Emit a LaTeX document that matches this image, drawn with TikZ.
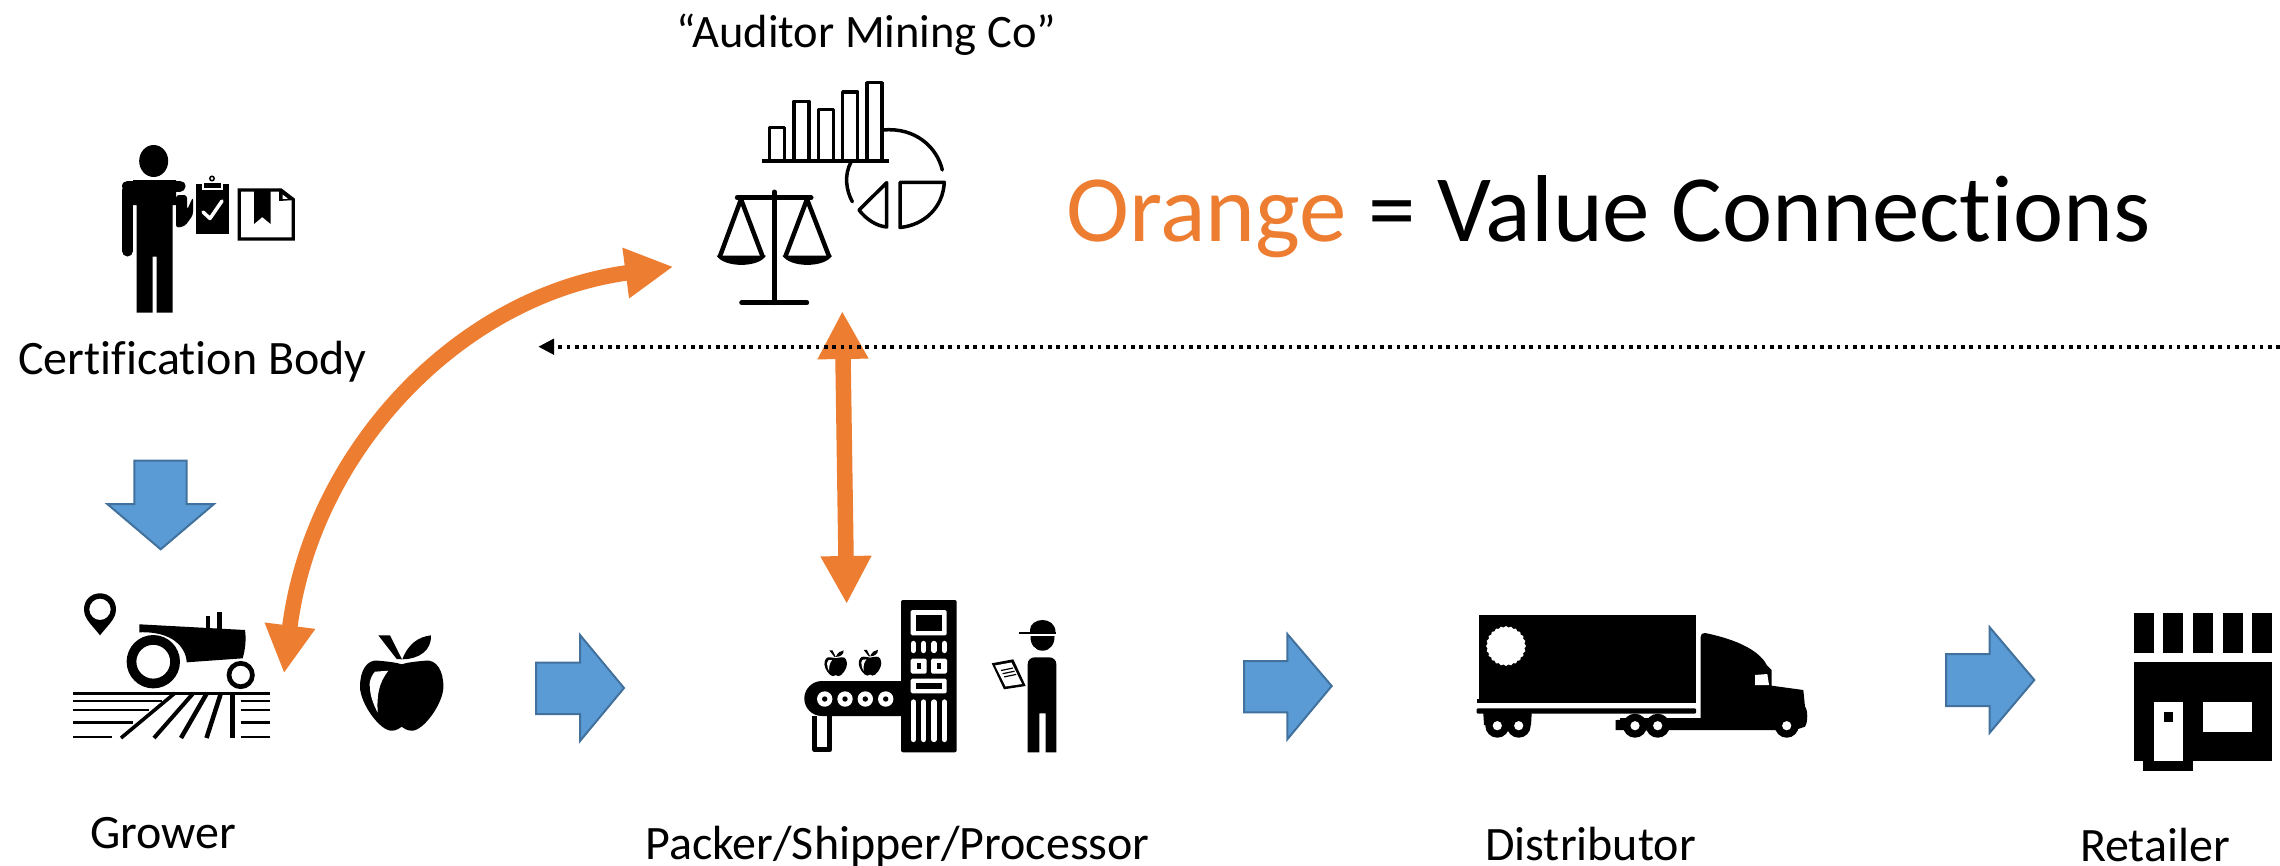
\documentclass[tikz,border=0pt]{standalone}
\usepackage{fontspec}
\setmainfont[Ligatures=NoCommon]{Carlito}
\usetikzlibrary{arrows.meta}
\definecolor{orng}{HTML}{ED7D31}
\definecolor{blfill}{HTML}{5B9BD5}
\definecolor{blline}{HTML}{41719C}
\tikzset{
 lbl/.style={inner sep=0pt,anchor=base,font=\fontsize{48}{56}\selectfont},
 blue arrow/.style={fill=blfill,draw=blline,line width=2pt,line join=miter},
 value link/.style={orng,line width=15.5pt,{Triangle[length=48pt,width=47.5pt]}-{Triangle[length=48pt,width=47.5pt]}},
 thinline/.style={draw=black,line width=3.5pt,line join=round,fill=none},
}
\newcommand{\appleicon}{%
 \fill[black] (-23.4,-22.3) .. controls (-35,-24) and (-41.7,-12) .. (-41.7,3.7)
   .. controls (-41.7,20) and (-22,48) .. (-10,47.7)
   .. controls (-5,47.7) and (-2,45) .. (0,43.7)
   .. controls (2,45) and (5,47.7) .. (10,47.7)
   .. controls (22,48) and (41.7,20) .. (41.7,3.7)
   .. controls (41.7,-12) and (35,-24) .. (23.4,-22.3)
   .. controls (14,-21.5) and (5,-20.5) .. (0,-18.7)
   .. controls (-5,-20.5) and (-14,-21.5) .. (-23.4,-22.3) -- cycle;
 \fill[black] (-23.4,-47.7) -- (-11.7,-47.7) -- (0.3,-23.7) -- (-5,-24) -- cycle;
 \fill[black] (0.6,-23.7) .. controls (7,-40) and (17,-46) .. (29.3,-47.7)
   .. controls (30,-33) and (18,-24) .. (0.6,-23.7) -- cycle;
 \fill[white] (-13.4,-12.3) -- (-26.7,-11.3) .. controls (-32,-6) and (-33,4) .. (-31.7,3.7)
   .. controls (-32,12) and (-28,22) .. (-24,29.7)
   .. controls (-25,12) and (-23,0) .. (-13.4,-12.3) -- cycle;
}
\begin{document}
\begin{tikzpicture}[x=1pt,y=-1pt]
\useasboundingbox (0,0) rectangle (2280,865);
\fill[white] (0,0) rectangle (2280,865);

% ---------- texts
\node[lbl,font=\fontsize{46.5}{54}\selectfont] (auditor) at (866.5,47) {“Auditor Mining Co”};
\node[lbl] (cert) at (192.5,374.5) {Certification Body};
\node[lbl] (grower) at (163.5,848) {Grower};
\node[lbl] (packer) at (897.5,859) {Packer/Shipper/Processor};
\node[lbl] (distrib) at (1590.5,860) {Distributor};
\node[lbl] (retail) at (2155,861) {Retailer};
\node[inner sep=0pt,anchor=base west,font=\fontsize{95}{110}\selectfont] (title) at (1066,241)
  {\textcolor{orng}{Orange} = Value Connections};

% ---------- certifier figure
\fill[black] (153.7,161) ellipse (14.5 and 16);
\fill[black] (133,180) -- (176,180) -- (176,205) -- (172.7,205) -- (172.7,312.7) -- (156.7,312.7) -- (156.7,256.7) -- (152.7,256.7) -- (152.7,312.7) -- (136.7,312.7) -- (136.7,205) -- (133,205) -- cycle;
\draw[black,line width=11pt,line cap=round] (127.5,190) -- (127.5,251);
\draw[black,line width=11pt,line cap=round] (127.5,186) -- (180,186);
\fill[black,rounded corners=3pt] (176,195) -- (187,195) -- (187,210) -- (193,197) -- (193,215) -- (185,226) -- (176,228) -- cycle;
\fill[black] (195.7,183.5) rectangle (229.3,234);
\fill[white] (202,181) rectangle (223,190);
\fill[black] (204,183) rectangle (221,188);
\draw[black,line width=1.5pt] (212,178.5) circle (2.2);
\draw[white,line width=3.5pt,line cap=round,line join=round] (203,212) -- (210,218.5) -- (222,201);
\draw[black,line width=3.2pt] (239.3,190) -- (281,190) -- (293.3,199.5) -- (293.3,239) -- (239.3,239) -- cycle;
\fill[black] (254,190) -- (270.7,190) -- (270.7,224) -- (262.3,217) -- (254,224) -- cycle;
\fill[black] (279,188.5) -- (295,200) -- (279,201) -- cycle;
\fill[white] (282.5,194.5) -- (288,198.7) -- (282.5,199) -- cycle;

% ---------- auditor icon: chart
\foreach \xa/\xb/\yt in {769.3/784.3/127.3,794/809/101.3,818.3/833.3/109.3,842.7/857.7/92,867/882/82.7}
  \draw[thinline] (\xa,160) -- (\xa,\yt) -- (\xb,\yt) -- (\xb,160);
\draw[black,line width=4pt] (761.7,160.7) -- (889,160.7);
% pie
\draw[black,line width=3.5pt,line cap=round] (883,130) .. controls (915,127) and (937,147) .. (942.3,170);
\draw[black,line width=3.5pt,line cap=round] (851,162) .. controls (844,175) and (846,190) .. (852.3,201.7);
\draw[thinline] (886.7,182.7) -- (859,210) .. controls (866,219) and (876,226) .. (886.7,227) -- cycle;
\draw[thinline] (900,182.3) -- (944.3,182.3) .. controls (943,207) and (925,225) .. (900,227.5) -- cycle;
% scales
\draw[black,line width=5pt,line cap=round] (737.3,197.7) -- (811,197.7);
\draw[black,line width=5pt,line cap=round] (774.3,192) -- (774.3,302.7);
\draw[black,line width=5pt,line cap=round] (741.7,302.7) -- (806.7,302.7);
\draw[black,line width=4.5pt,line join=round] (719.5,257.5) -- (741,199.3) -- (763,257.5);
\draw[black,line width=4.5pt,line join=round] (785,257.5) -- (807,199.3) -- (829.5,257.5);
\fill[black] (716.5,255.5) -- (766,255.5) .. controls (759,268) and (724,268) .. (716.5,255.5) -- cycle;
\fill[black] (782.5,255.5) -- (832,255.5) .. controls (825,268) and (790,268) .. (782.5,255.5) -- cycle;

% ---------- tractor
\fill[black,even odd rule] (100,609.3) circle (10.7)
  (84,609.3) .. controls (84,600) and (91,593.3) .. (100,593.3) .. controls (109,593.3) and (116,600) .. (116,609.3)
  .. controls (116,619) and (108,625) .. (100,635.3) .. controls (92,625) and (84,619) .. (84,609.3) -- cycle;
\fill[black] (139.3,624.3) -- (245,630) .. controls (246.5,640) and (245,650) .. (242.7,658.3) -- (186.7,662.3)
  .. controls (186,647) and (172,631) .. (139.3,632.3) -- cycle;
\fill[black] (216.7,611.7) rectangle (221.7,631);
\fill[black] (206,615.5) rectangle (209.5,630);
\draw[black,line width=9.7pt] (153.3,661.7) circle (21.8);
\draw[black,line width=4.7pt] (240.7,675) circle (11.7);
\draw[black,line width=3pt] (73.3,693.3) -- (270,693.3);
\foreach \yy/\xe/\lw in {701/161.7/2.6,710/149/2.6,722.3/132.7/2.6,737/112.3/2.6}
  \draw[black,line width=\lw pt] (73.3,\yy) -- (\xe,\yy) (240.7,\yy) -- (270,\yy);
\foreach \xa/\xb/\lw in {175/121/3.6,193.5/154/4,207/181/4.5,221/206.5/4.5,232.7/232.7/5.5}
  \draw[black,line width=\lw pt] (\xa,693) -- (\xb,738);

% ---------- big apple
\begin{scope}[shift={(401.7,683)}]
\appleicon
\end{scope}

% ---------- packer line
\fill[black] (901.7,681) -- (822,681) .. controls (812,681) and (804.3,689) .. (804.3,698.5) .. controls (804.3,708) and (812,716) .. (822,716) -- (901.7,716) -- cycle;
\foreach \xx in {824.7,845,865.3,885.7} {
  \fill[white] (\xx,699) circle (7.7);
  \fill[black] (\xx,699) circle (2.7);
}
\draw[black,line width=5pt,line join=round] (814.8,716) -- (814.8,749.8) -- (829.8,749.8) -- (829.8,716);
\begin{scope}[shift={(835.7,663.3)},scale=0.27]
\appleicon
\end{scope}
\begin{scope}[shift={(870,662.7)},scale=0.27]
\appleicon
\end{scope}
\fill[black,rounded corners=2pt] (901,600) rectangle (956.7,752.3);
\fill[white,rounded corners=1.5pt] (910.7,610) rectangle (946.7,635.3);
\fill[black] (915.7,615) rectangle (942,630.7);
\foreach \xx in {913.3,923.7,934,944.3} {
  \draw[white,line width=5.3pt,line cap=round] (\xx,643.5) -- (\xx,650.5);
  \draw[white,line width=5.3pt,line cap=round] (\xx,702) -- (\xx,739.5);
}
\foreach \xa in {910.7,931} {
  \fill[white,rounded corners=1.5pt] (\xa,658.7) rectangle +(16,15);
  \fill[black] (\xa+5.8,663) rectangle +(4.4,5.5);
}
\fill[white,rounded corners=1.5pt] (910.7,678.7) rectangle (946.7,693.3);
\fill[black] (915.7,683.3) rectangle (942,689);

% ---------- inspector
\fill[black] (1030,630) .. controls (1030,624) and (1036,620) .. (1042.5,620) .. controls (1049,620) and (1055.5,624) .. (1055.5,632) -- (1030,632) -- cycle;
\draw[black,line width=2pt] (1019,632.7) -- (1055.5,632.7);
\fill[black] (1030.5,636) -- (1054.5,636) .. controls (1055,644) and (1050,650.7) .. (1042.5,650.7) .. controls (1035,650.7) and (1030,644) .. (1030.5,636) -- cycle;
\fill[black] (1027.7,752.3) -- (1027.7,664) .. controls (1027.7,660) and (1031,657.3) .. (1035,657.3) -- (1049,657.3) .. controls (1053,657.3) and (1056.3,660) .. (1056.3,664) -- (1056.3,752.3) -- (1045.7,752.3) -- (1045.7,713.3) -- (1039.3,713.3) -- (1039.3,752.3) -- cycle;
\fill[black] (991.7,663.3) -- (1013.3,659.3) -- (1025.7,686) -- (1004,689.3) -- cycle;
\fill[white] (995,665.5) -- (1011.5,662.5) -- (1022,684) -- (1005.5,686.5) -- cycle;
\foreach \t in {0,1,2}
  \draw[black,line width=1.2pt] (1001+\t*1.6,670.5+\t*3.2) -- (1013+\t*1.6,668+\t*3.2);

% ---------- truck
\fill[black] (1479.3,615) rectangle (1696,702.7);
\fill[black] (1476.7,699) rectangle (1482,702.7);
\fill[white] plot[samples=49,domain=0:360] ({1506+(19.3+0.7*cos(24*\x))*cos(\x)},{646+(19.3+0.7*cos(24*\x))*sin(\x)}) -- cycle;
\fill[black,rounded corners=1pt] (1476.7,708.3) rectangle (1696,713.5);
\fill[black] (1483.3,713) -- (1531.7,713) -- (1531,725) -- (1484,725) -- cycle;
\fill[black] (1700.7,719.3) -- (1700.7,637) .. controls (1700.7,634) and (1702,633) .. (1705,633)
  .. controls (1730,638) and (1758,648) .. (1766.7,665) -- (1771.7,670) -- (1771.7,685.7)
  -- (1803.3,690) -- (1805,706.7) .. controls (1808,710) and (1808,722) .. (1805,726.7) -- (1795,730) -- (1615.7,730) -- (1615.7,720) -- cycle;
\fill[white] (1755,675) -- (1767.3,674) -- (1769,685) -- (1755,685) -- cycle;
\fill[black] (1620,718) rectangle (1700.7,730);
\foreach \xx in {1497.3,1518.7,1635,1657.7,1786.7} {
  \fill[black] (\xx,725.7) circle (12);
  \fill[white] (\xx,725.7) circle (4.6);
}

% ---------- store
\foreach \xa in {2133.7,2163.3,2193,2222.7,2252.3}
  \fill[black] (\xa,613.3) rectangle +(20,39.4);
\fill[black] (2133.7,662.3) rectangle (2272.3,761.3);
\fill[black] (2143.3,761) rectangle (2193.3,771);
\fill[white] (2153.7,702.3) rectangle (2183.3,761.3);
\fill[black] (2163.7,712.3) rectangle (2173.3,722);
\fill[white] (2203,702.3) rectangle (2252.3,732);

% ---------- blue block arrows
\draw[blue arrow] (134.3,460.7) -- (186.7,460.7) -- (186.7,504) -- (214,504) -- (160.7,549.3) -- (107.3,504) -- (134.3,504) -- cycle;
\draw[blue arrow] (536,662.5) -- (580,662.5) -- (580,635) -- (624,688) -- (580,741) -- (580,714) -- (536,714) -- cycle;
\draw[blue arrow] (1244,661) -- (1287.3,661) -- (1287.3,634) -- (1331.7,686) -- (1287.3,739.3) -- (1287.3,712.3) -- (1244,712.3) -- cycle;
\draw[blue arrow] (1946,654) -- (1989.7,654) -- (1989.7,627.3) -- (2034.3,680) -- (1989.7,732.7) -- (1989.7,706) -- (1946,706) -- cycle;

% ---------- connectors
\coordinate (growerEnd) at (284,673.3);
\coordinate (auditorEnd) at (673.3,266.7);
\coordinate (auditorLow) at (842.3,311);
\coordinate (packerTop) at (846.7,604);
\coordinate (feedStart) at (2280,346.7);
\coordinate (feedEnd) at (538.3,346.7);
\draw[value link] (growerEnd) .. controls (312,450) and (460,295) .. (auditorEnd);
\draw[value link] (auditorLow) -- (packerTop);
\draw[black,line width=3.6pt,dash pattern=on 3.6pt off 4.7pt,-{Triangle[length=15.7pt,width=15.3pt]}] (feedStart) -- (feedEnd);
\end{tikzpicture}
\end{document}
